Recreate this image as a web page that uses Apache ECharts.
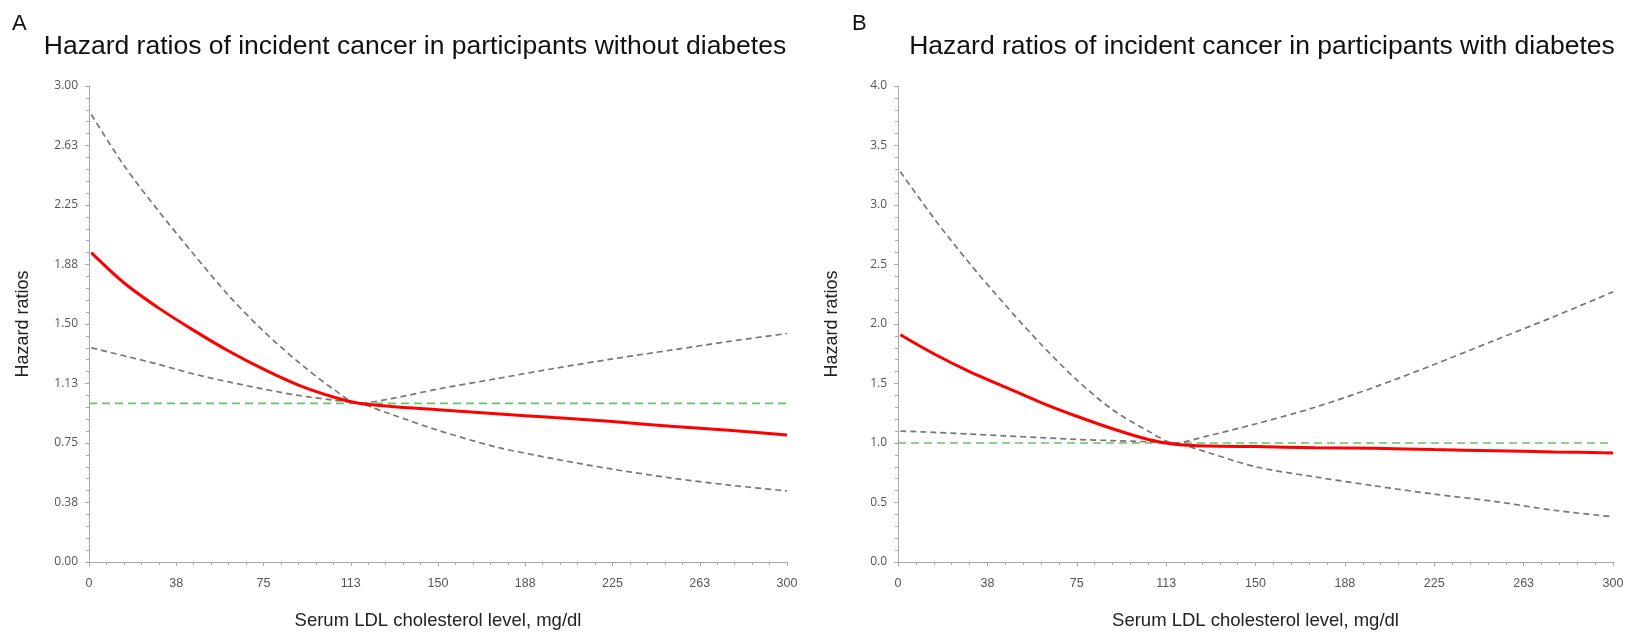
<!DOCTYPE html>
<html>
<head>
<meta charset="utf-8">
<script src="https://cdn.jsdelivr.net/npm/echarts@6/dist/echarts.min.js"></script>
<style>
  html, body { margin: 0; padding: 0; background: #fff; }
  #chart { width: 1633px; height: 635px; }
</style>
</head>
<body>
<div id="chart"></div>
<script>
// ---- Data ----
const ldl = [1, 15, 30, 45, 60, 75, 90, 105, 116, 130, 150, 175, 200, 225, 250, 275, 300];

// Panel A: participants without diabetes
const hrA    = [1.95, 1.76, 1.60, 1.46, 1.33, 1.215, 1.115, 1.04, 1.00, 0.98, 0.96, 0.935, 0.91, 0.885, 0.855, 0.83, 0.80];
const upperA = [2.82, 2.50, 2.21, 1.94, 1.68, 1.455, 1.26, 1.09, 1.00, 1.03, 1.09, 1.155, 1.22, 1.28, 1.335, 1.39, 1.44];
const lowerA = [1.35, 1.30, 1.245, 1.185, 1.135, 1.09, 1.05, 1.02, 1.00, 0.93, 0.83, 0.725, 0.65, 0.585, 0.53, 0.485, 0.448];

// Panel B: participants with diabetes
const hrB    = [1.91, 1.75, 1.60, 1.47, 1.34, 1.225, 1.12, 1.03, 0.99, 0.975, 0.97, 0.96, 0.955, 0.945, 0.935, 0.925, 0.917];
const upperB = [3.28, 2.89, 2.51, 2.16, 1.83, 1.53, 1.28, 1.10, 1.00, 1.06, 1.16, 1.30, 1.47, 1.66, 1.86, 2.06, 2.27];
const lowerB = [1.10, 1.09, 1.075, 1.06, 1.045, 1.03, 1.02, 1.01, 1.00, 0.92, 0.80, 0.715, 0.64, 0.57, 0.51, 0.435, 0.38];

const refLine = [[0, 1], [300, 1]];

const titleA = 'Hazard ratios of incident cancer in participants without diabetes';
const titleB = 'Hazard ratios of incident cancer in participants with diabetes';
const xName = 'Serum LDL cholesterol level, mg/dl';
const yName = 'Hazard ratios';

// ---- Helpers ----
const pairs = (xs, ys) => xs.map((x, i) => [x, ys[i]]);
const axisGrey = '#a8a8a8';
const labelGrey = '#555';

function xAxisDef(gridIndex) {
  return {
    type: 'value', gridIndex, min: 0, max: 300, interval: 37.5, offset: 5,
    name: xName, nameLocation: 'middle', nameGap: 44,
    nameTextStyle: { fontFamily: 'Liberation Sans, Arial, sans-serif', fontSize: 18.5, color: '#222' },
    axisLine: { show: true, lineStyle: { color: axisGrey, width: 1 } },
    axisTick: { show: true, length: 4, lineStyle: { color: axisGrey } },
    minorTick: { show: true, splitNumber: 5, length: 3, lineStyle: { color: axisGrey } },
    splitLine: { show: false },
    axisLabel: { margin: 10, fontFamily: 'Liberation Sans Narrow, Liberation Sans, sans-serif', fontSize: 12.5, color: labelGrey,
      formatter: v => String(Math.round(v)) }
  };
}
function yAxisDef(gridIndex, max, interval, decimals) {
  return {
    type: 'value', gridIndex, min: 0, max, interval, offset: 5,
    name: yName, nameLocation: 'middle', nameGap: 52, nameRotate: 90,
    nameTextStyle: { fontFamily: 'Liberation Sans, Arial, sans-serif', fontSize: 18, color: '#222' },
    axisLine: { show: true, lineStyle: { color: axisGrey, width: 1 } },
    axisTick: { show: true, length: 4, lineStyle: { color: axisGrey } },
    minorTick: { show: true, splitNumber: 5, length: 3, lineStyle: { color: axisGrey } },
    splitLine: { show: false },
    axisLabel: { margin: 6, fontFamily: 'Open Sans, sans-serif', fontSize: 12, color: labelGrey,
      formatter: v => v.toFixed(decimals) }
  };
}
function lineSeries(idx, data, kind) {
  const base = { type: 'line', xAxisIndex: idx, yAxisIndex: idx, data, showSymbol: false, symbol: 'none', silent: true, animation: false };
  if (kind === 'hr') return Object.assign(base, { smooth: 0.3, z: 5, lineStyle: { color: '#ff0000', width: 3 } });
  if (kind === 'ci') return Object.assign(base, { smooth: 0.3, z: 4, lineStyle: { color: '#777', width: 1.7, type: [6, 4] } });
  return Object.assign(base, { z: 3, lineStyle: { color: '#6cbf6c', width: 1.6, type: [8, 5] } });
}

const chart = echarts.init(document.getElementById('chart'), null, { renderer: 'canvas' });
chart.setOption({
  backgroundColor: '#fff',
  animation: false,
  title: [
    { text: 'A', left: 12, top: 13, padding: 0, textStyle: { fontFamily: 'Liberation Sans, Arial, sans-serif', fontSize: 22, fontWeight: 'normal', color: '#111' } },
    { text: 'B', left: 852, top: 13, padding: 0, textStyle: { fontFamily: 'Liberation Sans, Arial, sans-serif', fontSize: 22, fontWeight: 'normal', color: '#111' } },
    { text: titleA, left: 415, top: 33, padding: 0, textAlign: 'center', textStyle: { fontFamily: 'Liberation Sans, Arial, sans-serif', fontSize: 26.5, fontWeight: 'normal', color: '#111' } },
    { text: titleB, left: 1262, top: 33, padding: 0, textAlign: 'center', textStyle: { fontFamily: 'Liberation Sans, Arial, sans-serif', fontSize: 26.5, fontWeight: 'normal', color: '#111' } }
  ],
  grid: [
    { left: 89, top: 86, width: 698, height: 484, containLabel: false },
    { left: 898, top: 86, width: 715, height: 484, containLabel: false }
  ],
  xAxis: [xAxisDef(0), xAxisDef(1)],
  yAxis: [yAxisDef(0, 3, 0.375, 2), yAxisDef(1, 4, 0.5, 1)],
  series: [
    lineSeries(0, refLine, 'ref'),
    lineSeries(0, pairs(ldl, upperA), 'ci'),
    lineSeries(0, pairs(ldl, lowerA), 'ci'),
    lineSeries(0, pairs(ldl, hrA), 'hr'),
    lineSeries(1, refLine, 'ref'),
    lineSeries(1, pairs(ldl, upperB), 'ci'),
    lineSeries(1, pairs(ldl, lowerB), 'ci'),
    lineSeries(1, pairs(ldl, hrB), 'hr')
  ]
});
</script>
</body>
</html>
